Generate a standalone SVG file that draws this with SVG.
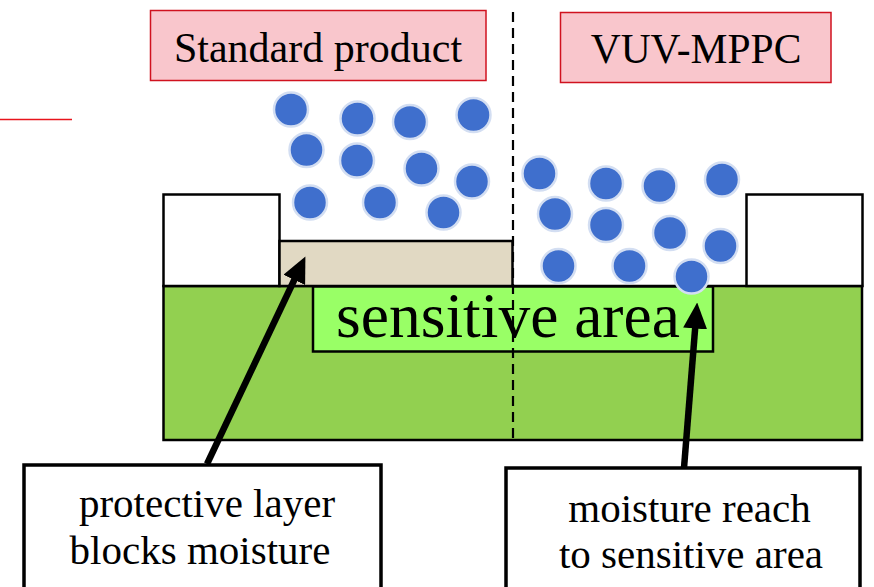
<svg xmlns="http://www.w3.org/2000/svg" width="874" height="587" viewBox="0 0 874 587">
  <style>
    text { font-family: 'Liberation Serif', 'Times New Roman', serif; fill: #000; }
    .title-box { fill: #f9c6cc; stroke: #d0121f; stroke-width: 1.5; }
    .wall { fill: #ffffff; stroke: #000; stroke-width: 2.5; }
    .label-box { fill: #ffffff; stroke: #000; stroke-width: 3.5; }
    .drop { fill: #3f6fcd; stroke: #d3def2; stroke-width: 2.5; }
    .arrow { stroke: #000; stroke-width: 6.5; fill: none; marker-end: url(#head); }
  </style>
  <defs>
    <marker id="head" markerUnits="userSpaceOnUse" markerWidth="26" markerHeight="24"
            viewBox="0 0 26 24" refX="1" refY="12" orient="auto">
      <path d="M0,0 L26,12 L0,24 z" fill="#000"/>
    </marker>
  </defs>

  <rect width="874" height="587" fill="#ffffff"/>

  <!-- short red rule at the left edge -->
  <line x1="0" y1="119.5" x2="72" y2="119.5" stroke="#e8141c" stroke-width="1.3"/>

  <!-- headings -->
  <g id="standard-title">
    <rect class="title-box" x="150.5" y="10.5" width="335.5" height="70"/>
    <text x="318" y="62" font-size="42" text-anchor="middle">Standard product</text>
  </g>
  <g id="vuv-title">
    <rect class="title-box" x="560.5" y="12.5" width="270.5" height="70"/>
    <text x="696" y="63" font-size="41.5" text-anchor="middle">VUV-MPPC</text>
  </g>

  <!-- device cross-section -->
  <g id="device-body">
    <rect x="163.5" y="286" width="698.5" height="154" fill="#92d050" stroke="#000" stroke-width="2.5"/>
  </g>
  <g id="left-wall">
    <rect class="wall" x="163.5" y="194.5" width="116" height="91.5"/>
  </g>
  <g id="right-wall">
    <rect class="wall" x="746.5" y="194.5" width="116" height="91.5"/>
  </g>
  <g id="protective-layer">
    <rect x="279.5" y="241" width="233" height="45" fill="#e1d9c3" stroke="#000" stroke-width="2.5"/>
  </g>
  <g id="sensitive-area">
    <rect x="313" y="286.5" width="400" height="65" fill="#99ff66" stroke="#000" stroke-width="2.5"/>
    <text x="508" y="337" font-size="63.5" text-anchor="middle">sensitive area</text>
  </g>

  <!-- divider between the two variants -->
  <line x1="513" y1="12" x2="513" y2="440" stroke="#000" stroke-width="2.2" stroke-dasharray="10 6"/>

  <!-- moisture droplets, standard product -->
  <g id="moisture-standard">
    <circle class="drop" cx="291" cy="109.5" r="17"/>
    <circle class="drop" cx="357.5" cy="118.5" r="17"/>
    <circle class="drop" cx="410" cy="122" r="17"/>
    <circle class="drop" cx="473.5" cy="115" r="17"/>
    <circle class="drop" cx="306.5" cy="150" r="17"/>
    <circle class="drop" cx="357" cy="160.5" r="17"/>
    <circle class="drop" cx="421.5" cy="168.5" r="17"/>
    <circle class="drop" cx="472" cy="181.5" r="17"/>
    <circle class="drop" cx="310" cy="202.5" r="17"/>
    <circle class="drop" cx="380" cy="202.5" r="17"/>
    <circle class="drop" cx="443.5" cy="212.5" r="17"/>
  </g>

  <!-- moisture droplets, VUV-MPPC -->
  <g id="moisture-vuv">
    <circle class="drop" cx="539.5" cy="173.5" r="17"/>
    <circle class="drop" cx="606" cy="183.5" r="17"/>
    <circle class="drop" cx="659.5" cy="186" r="17"/>
    <circle class="drop" cx="722" cy="179.5" r="17"/>
    <circle class="drop" cx="555" cy="214" r="17"/>
    <circle class="drop" cx="606" cy="225" r="17"/>
    <circle class="drop" cx="670" cy="233" r="17"/>
    <circle class="drop" cx="720.5" cy="246" r="17"/>
    <circle class="drop" cx="558.5" cy="266" r="17"/>
    <circle class="drop" cx="629.5" cy="266" r="17"/>
    <circle class="drop" cx="691.5" cy="276.5" r="17"/>
  </g>

  <!-- callouts -->
  <g id="label-protective">
    <rect class="label-box" x="24" y="465" width="357" height="140"/>
    <text x="207" y="516.5" font-size="41" text-anchor="middle">protective layer</text>
    <text x="200" y="564" font-size="41" text-anchor="middle">blocks moisture</text>
  </g>
  <g id="label-moisture">
    <rect class="label-box" x="506" y="468" width="354" height="140"/>
    <text x="689.5" y="521.5" font-size="41" text-anchor="middle">moisture reach</text>
    <text x="691" y="568" font-size="41" text-anchor="middle">to sensitive area</text>
  </g>

  <g id="connectors">
    <line class="arrow" x1="207" y1="464" x2="294.7" y2="279"/>
    <line class="arrow" x1="684" y1="468" x2="695.2" y2="327.5"/>
  </g>
</svg>
